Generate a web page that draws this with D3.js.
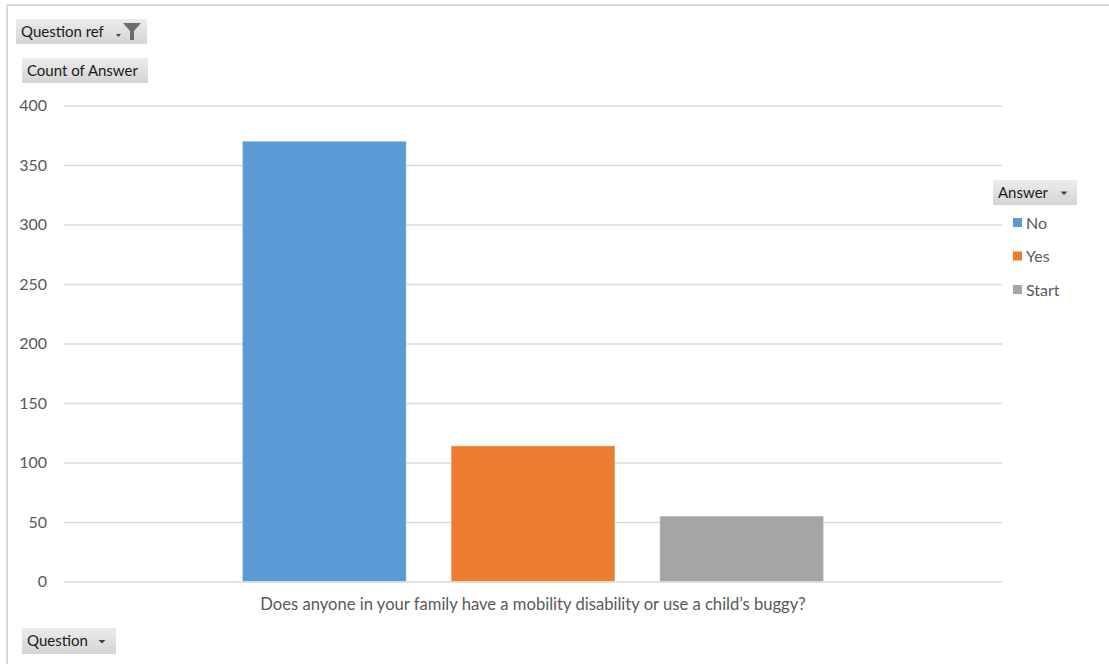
<!doctype HTML>
<html>
<head>
    <style>
        body { margin: 0; background: white; }
        text { font-family: Lato, "Open Sans", sans-serif; }
    </style>
    <script src="https://d3js.org/d3.v7.min.js"></script>
</head>
<body>
<script>
    var canvasWidth = 1109;
    var canvasHeight = 664;

    // data
    var categories = ["Does anyone in your family have a mobility disability or use a child\u2019s buggy?"];
    var series = ["No", "Yes", "Start"];
    var counts = [370, 114, 55];
    var yTicks = [0, 50, 100, 150, 200, 250, 300, 350, 400];
    var colors = ["#5B9BD5", "#ED7D31", "#A5A5A5"];

    var data = series.map(function(s, i) { return {answer: s, count: counts[i], cat: categories[0]}; });

    var svg = d3.select("body").append("svg")
        .attr("width", canvasWidth)
        .attr("height", canvasHeight);

    // outer frame (left + top edges visible)
    svg.append("line").attr("x1", 7).attr("x2", 7).attr("y1", 5).attr("y2", canvasHeight)
        .attr("stroke", "#d9d9d9").attr("stroke-width", 2);
    svg.append("line").attr("x1", 7).attr("x2", canvasWidth).attr("y1", 5).attr("y2", 5)
        .attr("stroke", "#d9d9d9").attr("stroke-width", 2);

    var plotLeft = 64, plotRight = 1002, plotTop = 105.5, plotBottom = 581.5;

    var yScale = d3.scaleLinear().domain([0, 400]).range([plotBottom, plotTop]);
    var colorScale = d3.scaleOrdinal().domain(series).range(colors);

    var x0 = d3.scaleBand().domain(categories).range([plotLeft, plotRight])
        .paddingInner(0).paddingOuter(0.307);
    var x1 = d3.scaleBand().domain(series).range([0, x0.bandwidth()])
        .paddingInner(0.215).paddingOuter(0);

    // gridlines
    svg.append("g")
        .attr("transform", "translate(" + plotLeft + ",0)")
        .call(d3.axisLeft(yScale).tickValues(yTicks).tickSize(-(plotRight - plotLeft)).tickFormat(""))
        .call(function(g) { g.select(".domain").remove(); })
        .selectAll("line")
            .attr("stroke", "#d9d9d9")
            .attr("stroke-width", 1.5);

    // y tick labels
    svg.append("g")
        .selectAll("text")
        .data(yTicks)
        .enter()
        .append("text")
            .attr("x", 47)
            .attr("y", function(d) { return yScale(d); })
            .attr("dy", "0.35em")
            .attr("text-anchor", "end")
            .attr("font-size", "16px")
            .attr("fill", "#595959")
            .text(function(d) { return d; });

    // bars
    svg.append("g")
        .selectAll("rect")
        .data(data)
        .enter()
        .append("rect")
            .attr("x", function(d) { return x0(d.cat) + x1(d.answer); })
            .attr("y", function(d) { return yScale(d.count); })
            .attr("width", x1.bandwidth())
            .attr("height", function(d) { return yScale(0) - yScale(d.count); })
            .attr("fill", function(d) { return colorScale(d.answer); })
            .attr("stroke", "white")
            .attr("stroke-opacity", 0.4)
            .attr("stroke-width", 1);

    // category label
    svg.append("text")
        .attr("x", x0(categories[0]) + x0.bandwidth() / 2)
        .attr("y", 610)
        .attr("text-anchor", "middle")
        .attr("font-size", "16.6px")
        .attr("fill", "#595959")
        .text(categories[0]);

    // pivot field buttons
    var grad = svg.append("defs").append("linearGradient")
        .attr("id", "btn").attr("x1", 0).attr("y1", 0).attr("x2", 0).attr("y2", 1);
    grad.append("stop").attr("offset", "0%").attr("stop-color", "#ececec");
    grad.append("stop").attr("offset", "100%").attr("stop-color", "#d4d4d4");

    function button(x, y, w, h, label, arrow, funnel) {
        var g = svg.append("g").attr("transform", "translate(" + x + "," + y + ")");
        g.append("rect").attr("width", w).attr("height", h).attr("fill", "url(#btn)");
        g.append("text").attr("x", 5).attr("y", h / 2).attr("dy", "0.35em")
            .attr("font-size", "15px").attr("fill", "#1a1a1a").text(label);
        if (arrow) {
            var ax = arrow;
            g.append("path")
                .attr("d", "M" + (ax - 3.5) + "," + (h / 2 - 1) + " L" + (ax + 3.5) + "," + (h / 2 - 1) + " L" + ax + "," + (h / 2 + 2.5) + " Z")
                .attr("fill", "#404040");
        }
        if (funnel) {
            g.append("path")
                .attr("d", "M" + (funnel - 9) + ",4 L" + (funnel + 9) + ",4 L" + (funnel + 2) + ",12 L" + (funnel + 2) + ",21 L" + (funnel - 2) + ",21 L" + (funnel - 2) + ",12 Z")
                .attr("fill", "#6b6b6b");
            g.append("path")
                .attr("d", "M" + (funnel - 16) + ",15 L" + (funnel - 11) + ",15 L" + (funnel - 13.5) + ",18 Z")
                .attr("fill", "#404040");
        }
        return g;
    }

    button(16, 19, 131, 25, "Question ref", null, 116);
    button(22, 58, 126, 25, "Count of Answer", null, null);
    button(993, 180, 84, 25, "Answer", 71, null);
    button(22, 628, 94, 26, "Question", 80, null);

    // legend
    var legend = svg.append("g");
    legend.selectAll("rect")
        .data(series)
        .enter()
        .append("rect")
            .attr("x", 1013)
            .attr("y", function(d, i) { return 218 + i * 33.5; })
            .attr("width", 9)
            .attr("height", 9)
            .attr("fill", function(d) { return colorScale(d); });
    legend.selectAll("text")
        .data(series)
        .enter()
        .append("text")
            .attr("x", 1026)
            .attr("y", function(d, i) { return 223 + i * 33.5; })
            .attr("dy", "0.35em")
            .attr("font-size", "16px")
            .attr("fill", "#595959")
            .text(function(d) { return d; });
</script>
</body>
</html>
